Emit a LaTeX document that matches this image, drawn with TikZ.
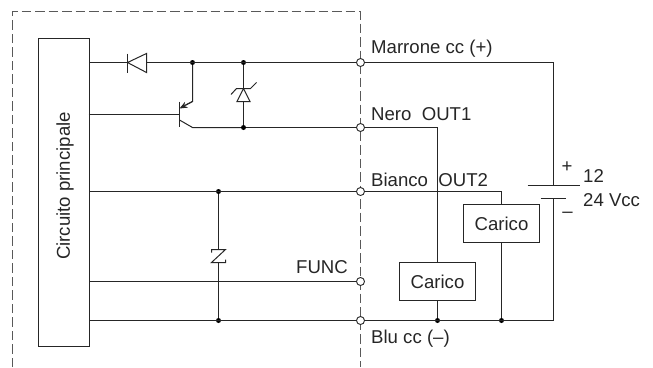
\documentclass[tikz,border=0pt]{standalone}
\usepackage{fontspec}
\setmainfont{Liberation Sans}
\usetikzlibrary{arrows.meta,calc}
\tikzset{
  wire/.style={line width=1pt,draw=black!85},
  sym/.style={line width=1pt,draw=black!85,line join=miter},
  term/.style={circle,draw=black!85,fill=white,line width=0.9pt,minimum size=8pt,inner sep=0pt},
  jdot/.style={circle,fill=black,minimum size=5pt,inner sep=0pt},
  lab/.style={font=\fontsize{18.6pt}{20pt}\selectfont,text=black!85,inner sep=0pt},
  loadbox/.style={draw=black!85,line width=1pt,fill=white,minimum width=76pt,minimum height=38pt,inner sep=0pt,font=\fontsize{18.6pt}{20pt}\selectfont,text=black!85},
  frame/.style={line width=1pt,draw=black!65,dash pattern=on 9.5pt off 4pt}
}
\begin{document}
\begin{tikzpicture}[x=1pt,y=-1pt]
\useasboundingbox (0,0) rectangle (653,367);
% dashed enclosure
\coordinate (fa) at (360.5,367);
\coordinate (fb) at (360.5,11.5);
\coordinate (fc) at (12.5,11.5);
\coordinate (fd) at (12.5,367);
\draw[frame] (fd) -- (fc) -- (fb) -- (fa);
% main circuit
\node[draw=black!85,line width=1pt,minimum width=51pt,minimum height=308pt,inner sep=0pt,anchor=north west] (main) at (37.5,37.5) {};
\node[lab,rotate=90] (mainlabel) at (65,186) {Circuito principale};
% terminals
\node[term] (t1) at (360.5,62.5) {};
\node[term] (t2) at (360.5,127.5) {};
\node[term] (t3) at (360.5,191.5) {};
\node[term] (t4) at (360.5,281.5) {};
\node[term] (t5) at (360.5,320.5) {};
% wire junctions at the main block
\coordinate (m1) at (main.east |- t1);
\coordinate (m2) at (88.5,114.5);
\coordinate (m3) at (main.east |- t3);
\coordinate (m4) at (main.east |- t4);
\coordinate (m5) at (main.east |- t5);
% junction dots
\node[jdot] (j1) at (192.5,62.5) {};
\node[jdot] (j2) at (243.5,62.5) {};
\node[jdot] (j3) at (243.5,127.5) {};
\node[jdot] (j4) at (218.5,191.5) {};
\node[jdot] (j5) at (218.5,320.5) {};
\node[jdot] (j6) at (437.5,320.5) {};
\node[jdot] (j7) at (501.5,320.5) {};
% loads
\node[loadbox] (load1) at (437.5,281.5) {Carico};
\node[loadbox] (load2) at (501.5,223.5) {Carico};
% wires
\draw[wire] (m1) -- (t1);
\draw[wire] (m3) -- (t3);
\draw[wire] (m4) -- (t4);
\draw[wire] (m5) -- (t5);
\draw[wire] (m2) -- (179.5,114.5);
\draw[wire] (j3) -- (t2);
\draw[wire] (j2) -- (243.5,88.5);
\draw[wire] (243.5,101.5) -- (j3);
% diode
\draw[sym,fill=white] (127.5,62.5) -- (146.5,53.5) -- (146.5,72.5) -- cycle;
\draw[sym] (127.5,53.5) -- (127.5,72.5);
% transistor
\draw[sym] (179.5,101.5) -- (179.5,126.5);
\draw[wire] (j1) -- (192.5,101.5) -- (185.5,105);
\draw[sym,-{Stealth[length=8pt,width=6.5pt]}] (192.5,101.5) -- (179.5,108.5);
\draw[wire] (179.5,120) -- (192.5,127.5) -- (j3);
% zener on output
\draw[sym] (243.5,88.5) -- (237,101.5) -- (250,101.5) -- cycle;
\draw[sym] (231,94.5) -- (236.5,88.5) -- (250.5,88.5) -- (256.5,82.5);
% zener on func
\draw[wire] (j4) -- (218.5,249.5);
\draw[wire] (218.5,262.5) -- (j5);
\draw[sym] (211.5,252.5) -- (211.5,249.5) -- (225.5,249.5) -- (211.5,262.5) -- (225.5,262.5) -- (225.5,259.5);
% external wiring
\coordinate (bt) at (553.5,185.5);
\coordinate (bb) at (553.5,198.5);
\draw[wire] (t1) -- (553.5,62.5) -- (bt);
\draw[wire] (bb) -- (553.5,320.5) -- (t5);
\draw[wire] (t2) -- (437.5,127.5) -- (load1.north);
\draw[wire] (t3) -- (501.5,191.5) -- (load2.north);
\draw[wire] (load1.south) -- (j6);
\draw[wire] (load2.south) -- (j7);
% battery
\draw[wire] (527.5,185.5) -- (579.5,185.5);
\draw[wire] (540.5,198.5) -- (565.5,198.5);
% labels
\node[lab,anchor=base west] (l1) at (371,53) {Marrone cc (+)};
\node[lab,anchor=base west] (l2) at (371,120) {Nero\ \ OUT1};
\node[lab,anchor=base west] (l3) at (371,186.7) {Bianco\ \ OUT2};
\node[lab,anchor=base east] (l4) at (348,273) {FUNC};
\node[lab,anchor=base west] (l5) at (371,343) {Blu cc (–)};
\node[lab,anchor=base west] (l6) at (583,182.7) {12};
\node[lab,anchor=base west] (l7) at (583,206.7) {24 Vcc};
\node[lab,anchor=base] (plus) at (567,172) {+};
\node[lab,anchor=base] (minus) at (567.5,217) {–};
\end{tikzpicture}
\end{document}
